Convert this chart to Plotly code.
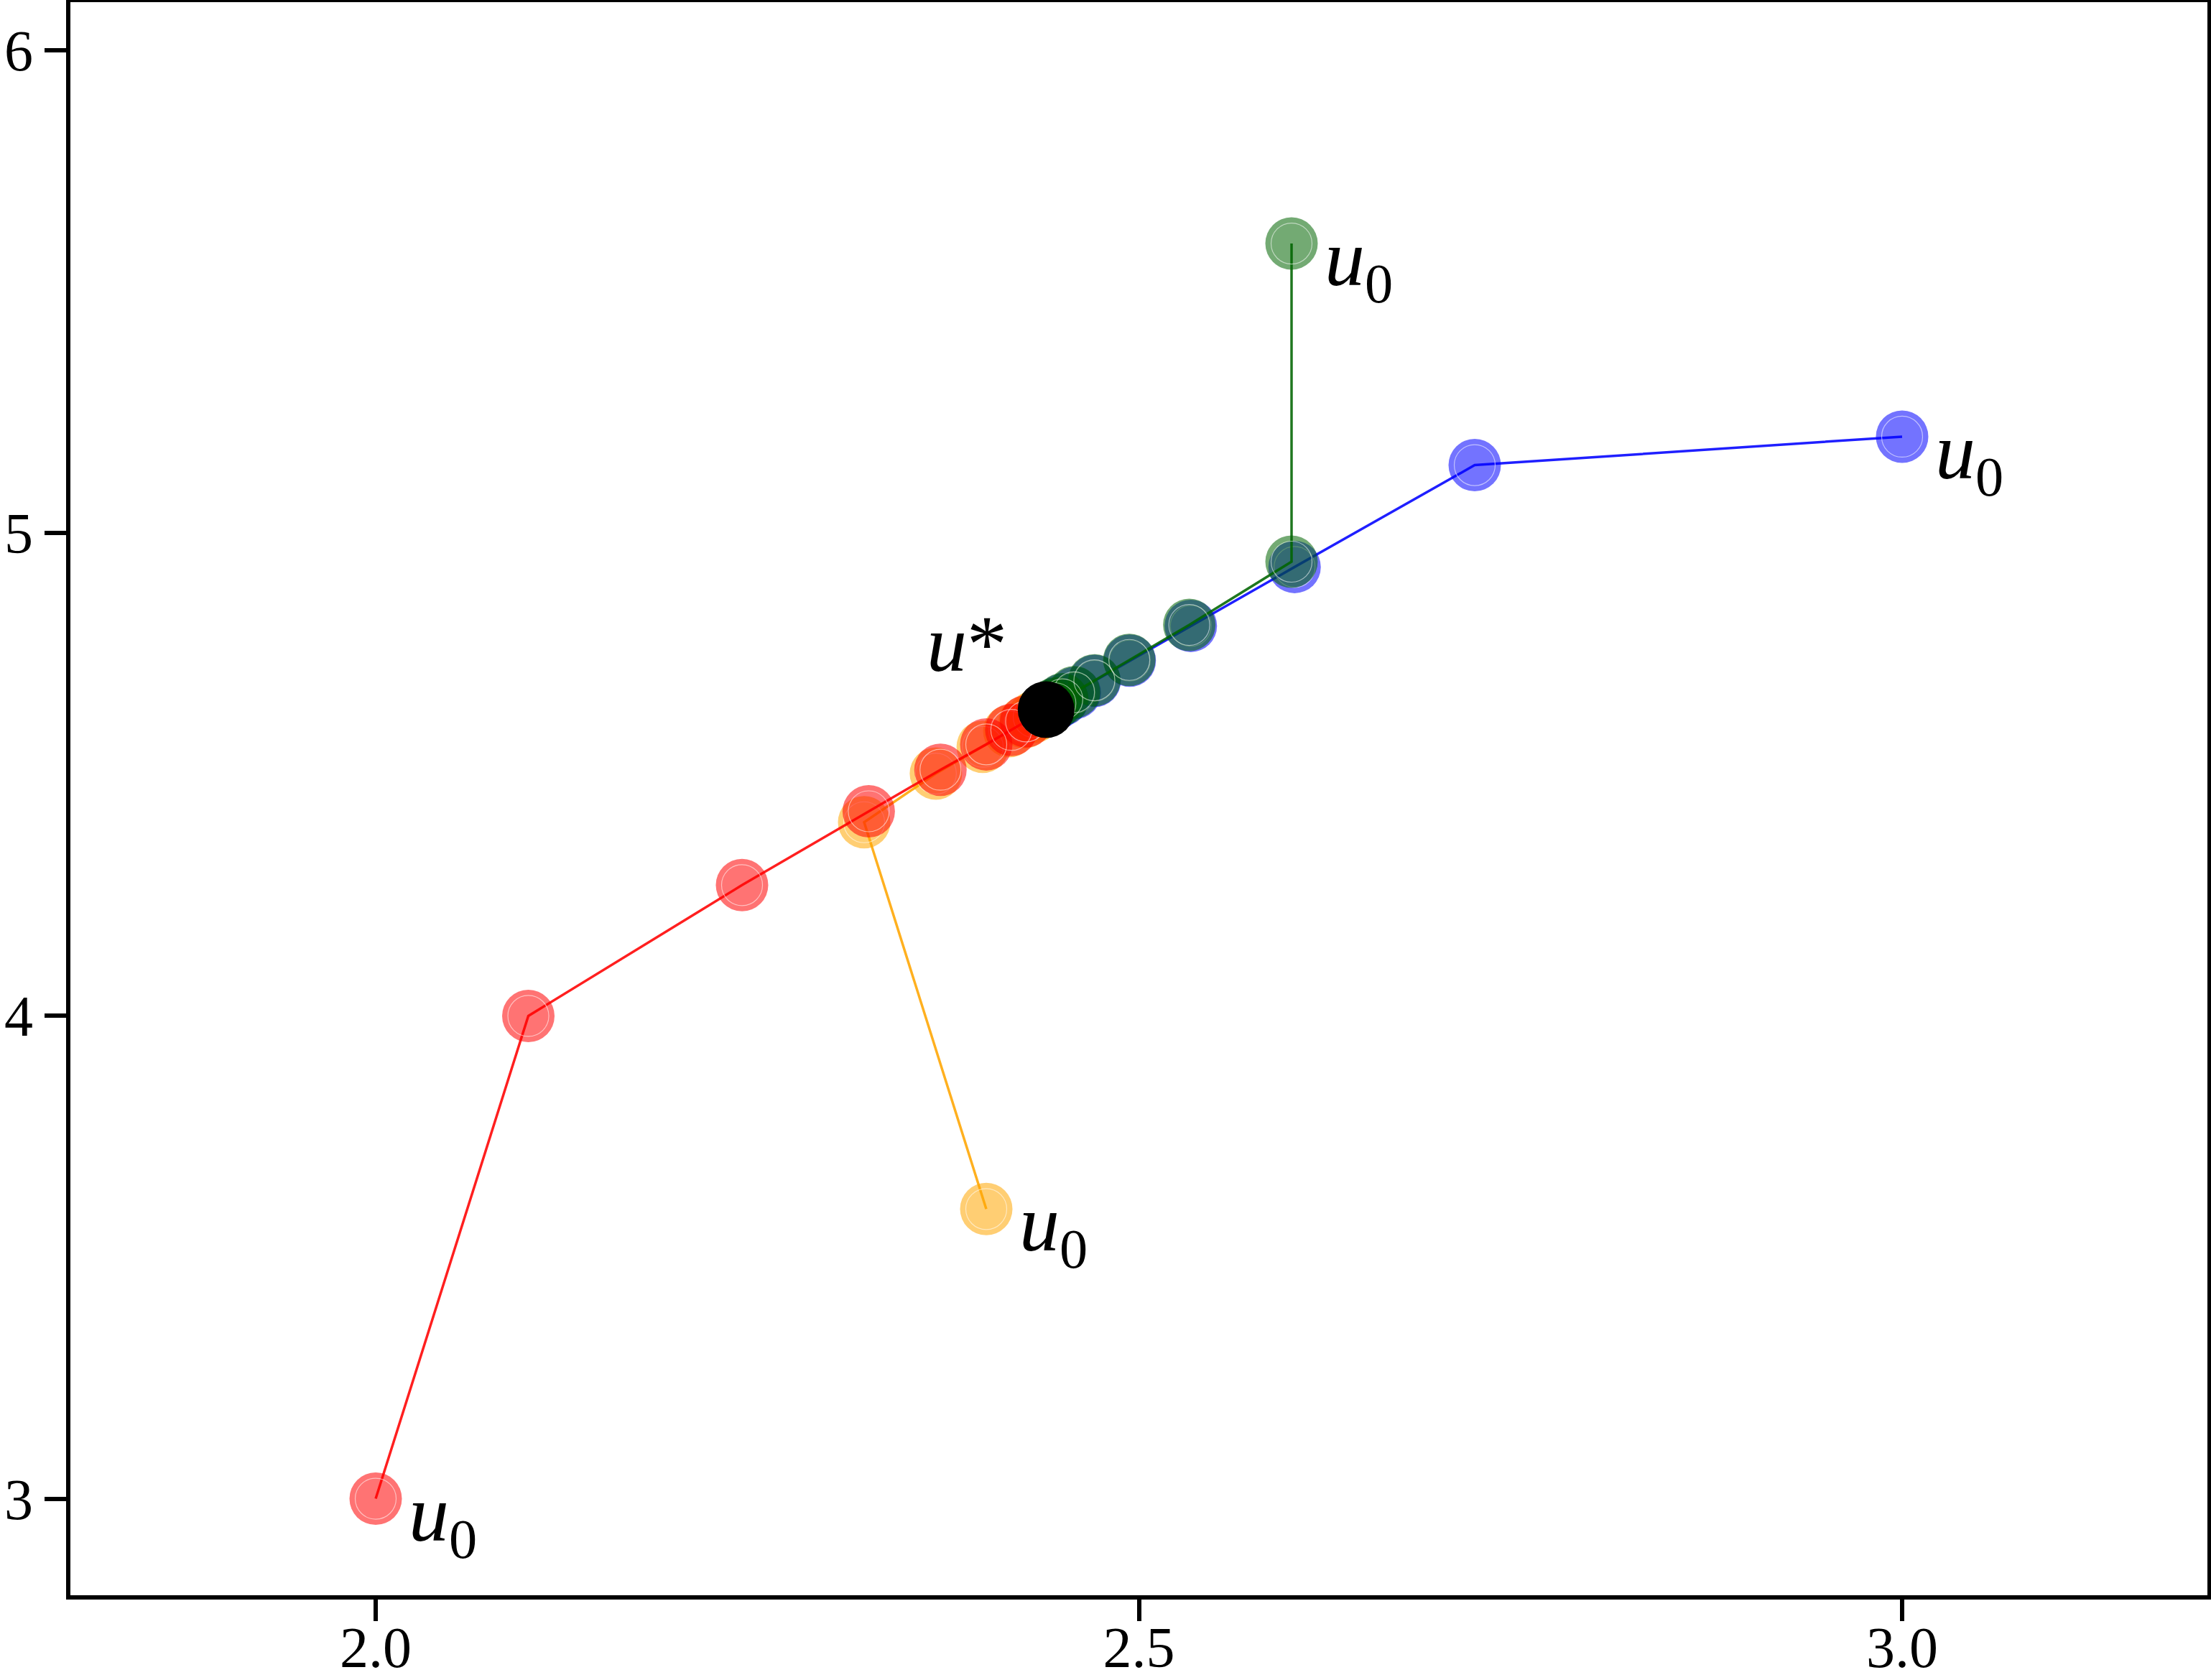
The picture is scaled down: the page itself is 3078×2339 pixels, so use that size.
import plotly.graph_objects as go

# ---- data ----
blue_x = [3.0, 2.72, 2.602, 2.534, 2.494, 2.471, 2.458, 2.450, 2.4456, 2.4430, 2.4414]
blue_y = [5.2, 5.141, 4.930, 4.808, 4.736, 4.694, 4.669, 4.655, 4.6464, 4.6414, 4.6385]

green_x = [2.6, 2.6, 2.533, 2.4937, 2.4708, 2.4575, 2.4498, 2.4453, 2.4427, 2.4412]
green_y = [5.6, 4.941, 4.810, 4.7375, 4.6953, 4.6705, 4.6560, 4.6475, 4.6425, 4.6396]

orange_x = [2.4, 2.32, 2.367, 2.3977, 2.4151, 2.4252, 2.4311, 2.4345, 2.4365]
orange_y = [3.6, 4.4013, 4.502, 4.5576, 4.5898, 4.6084, 4.6193, 4.6257, 4.6295]

red_x = [2.0, 2.1, 2.24, 2.323, 2.370, 2.400, 2.4164, 2.4261]
red_y = [3.0, 4.0, 4.271, 4.424, 4.510, 4.5625, 4.5926, 4.6102]

ustar_x = [2.4392]
ustar_y = [4.6345]

x_ticks = [2.0, 2.5, 3.0]
x_ticklabels = ["2.0", "2.5", "3.0"]
y_ticks = [3, 4, 5, 6]
y_ticklabels = ["3", "4", "5", "6"]

start_label = "<i>u</i><sub>0</sub>"
star_label = "<i>u</i>*"

# ---- styling ----
series = [
    (blue_x, blue_y, "rgba(0,0,255,0.55)", "rgba(0,0,255,0.88)"),
    (green_x, green_y, "rgba(0,100,0,0.55)", "rgba(0,100,0,0.88)"),
    (orange_x, orange_y, "rgba(255,165,0,0.55)", "rgba(255,165,0,0.88)"),
    (red_x, red_y, "rgba(255,0,0,0.55)", "rgba(255,0,0,0.88)"),
]

fig = go.Figure()
for xs, ys, mcol, lcol in series:
    fig.add_trace(go.Scatter(
        x=xs, y=ys, mode="lines+markers",
        line=dict(color=lcol, width=3.5),
        marker=dict(size=73, color=mcol, line=dict(width=0)),
        hoverinfo="skip", showlegend=False,
    ))
    fig.add_trace(go.Scatter(
        x=xs, y=ys, mode="markers",
        marker=dict(size=57, symbol="circle-open", color="rgba(255,255,255,0.55)",
                    line=dict(width=1.2)),
        hoverinfo="skip", showlegend=False,
    ))

fig.add_trace(go.Scatter(
    x=ustar_x, y=ustar_y, mode="markers",
    marker=dict(size=79, color="black", line=dict(width=0)),
    hoverinfo="skip", showlegend=False,
))

label_font = dict(family="Liberation Serif, serif", size=112, color="black")
annotations = []
for xs, ys, _, _ in series:
    annotations.append(dict(
        x=xs[0], y=ys[0], xref="x", yref="y", text=start_label,
        showarrow=False, xanchor="left", yanchor="top",
        xshift=44, yshift=44, font=label_font,
    ))
annotations.append(dict(
    x=ustar_x[0], y=ustar_y[0], xref="x", yref="y", text=star_label,
    showarrow=False, xanchor="left", yanchor="top",
    xshift=-168, yshift=156, font=label_font,
))

tick_font = dict(family="Liberation Serif, serif", size=80, color="black")
axis_common = dict(
    showline=True, linewidth=6, linecolor="black", mirror=True,
    ticks="outside", ticklen=30, tickwidth=5.5, tickcolor="black",
    showgrid=False, zeroline=False, tickfont=tick_font, automargin=False,
)

fig.update_layout(
    width=3078, height=2339,
    margin=dict(l=98, r=5, t=3, b=118, pad=0),
    paper_bgcolor="white", plot_bgcolor="white",
    showlegend=False,
    annotations=annotations,
    xaxis=dict(range=[1.8, 3.2], tickvals=x_ticks, ticktext=x_ticklabels,
               ticklabelstandoff=-32, **axis_common),
    yaxis=dict(range=[2.8, 6.1], tickvals=y_ticks, ticktext=y_ticklabels,
               **axis_common),
)

fig.write_html("out.html")
